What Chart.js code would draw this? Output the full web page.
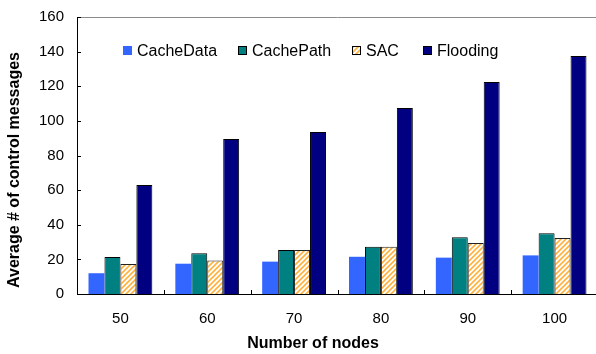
<!DOCTYPE html>
<html>
<head>
<meta charset="utf-8">
<script src="https://cdn.jsdelivr.net/npm/chart.js@4/dist/chart.umd.min.js"></script>
<style>
    html, body { margin: 0; padding: 0; background: #fff; overflow: hidden; }
    #wrap { width: 598px; height: 354px; position: relative; }
</style>
</head>
<body>
<div id="wrap"><canvas id="chart"></canvas></div>
<script>
const nodeCounts = ['50', '60', '70', '80', '90', '100'];
const cacheDataValues = [12, 17.5, 18.7, 21.5, 21, 22.3];
const cachePathValues = [21.4, 23.5, 25.4, 27.3, 32.8, 35.1];
const sacValues = [17.3, 19.4, 25.4, 27.3, 29.4, 32.3];
const floodingValues = [63, 89.5, 93.6, 107.5, 122.5, 137.5];
const yTicks = [0, 20, 40, 60, 80, 100, 120, 140, 160];

const FONT = '"Liberation Sans", Arial, sans-serif';

// diagonal orange hatch for SAC
function makeHatch() {
    const c = document.createElement('canvas');
    c.width = 5; c.height = 5;
    const g = c.getContext('2d');
    g.fillStyle = '#ffffff';
    g.fillRect(0, 0, 5, 5);
    g.strokeStyle = '#ffb23f';
    g.lineWidth = 1.6;
    g.beginPath();
    g.moveTo(-1, 6); g.lineTo(6, -1);
    g.moveTo(-1, 1); g.lineTo(1, -1);
    g.moveTo(4, 6); g.lineTo(6, 4);
    g.stroke();
    return g.createPattern(c, 'repeat');
}
const hatch = makeHatch();

// axis decorations, legend and titles
const decorPlugin = {
    id: 'decor',
    afterDraw(chart) {
        const ctx = chart.ctx;
        const area = chart.chartArea;
        const x = chart.scales.x;
        const y = chart.scales.y;
        ctx.save();

        // top frame line
        ctx.strokeStyle = '#8c8c8c';
        ctx.lineWidth = 1;
        ctx.beginPath();
        ctx.moveTo(area.left, Math.round(area.top) + 0.5);
        ctx.lineTo(area.right, Math.round(area.top) + 0.5);
        ctx.stroke();

        // inward ticks
        ctx.strokeStyle = '#000';
        ctx.beginPath();
        yTicks.forEach(v => {
            const py = Math.round(y.getPixelForValue(v)) + 0.5;
            ctx.moveTo(area.left, py);
            ctx.lineTo(area.left + 4, py);
        });
        for (let i = 1; i < nodeCounts.length; i++) {
            const px = Math.round((x.getPixelForValue(i - 1) + x.getPixelForValue(i)) / 2) + 0.5;
            ctx.moveTo(px, area.bottom);
            ctx.lineTo(px, area.bottom - 4);
        }
        ctx.stroke();

        // legend
        const legendX = [123, 238, 352, 423];
        ctx.font = '16px ' + FONT;
        ctx.textBaseline = 'middle';
        chart.data.datasets.forEach((ds, i) => {
            const bx = legendX[i];
            ctx.fillStyle = ds.backgroundColor;
            ctx.fillRect(bx, 46, 9, 9);
            if (ds.borderWidth) {
                ctx.strokeStyle = '#000';
                ctx.strokeRect(bx + 0.5, 46.5, 8, 8);
            }
            ctx.fillStyle = '#000';
            ctx.fillText(ds.label, bx + 14, 51.5);
        });

        // axis titles
        ctx.font = 'bold 16px ' + FONT;
        ctx.textAlign = 'center';
        ctx.fillText('Number of nodes', 313, 344);
        ctx.translate(15, 170);
        ctx.rotate(-Math.PI / 2);
        ctx.fillText('Average # of control messages', 0, 0);
        ctx.restore();
    }
};

new Chart(document.getElementById('chart'), {
    type: 'bar',
    data: {
        labels: nodeCounts,
        datasets: [
            { label: 'CacheData', data: cacheDataValues, backgroundColor: '#3366ff', borderWidth: 0 },
            { label: 'CachePath', data: cachePathValues, backgroundColor: '#008080', borderColor: '#000', borderWidth: 1 },
            { label: 'SAC', data: sacValues, backgroundColor: hatch, borderColor: '#222', borderWidth: 1 },
            { label: 'Flooding', data: floodingValues, backgroundColor: '#000080', borderColor: '#000', borderWidth: 1 }
        ]
    },
    options: {
        responsive: true,
        maintainAspectRatio: false,
        animation: false,
        categoryPercentage: 0.735,
        barPercentage: 1,
        layout: { padding: { top: 17, right: 0, left: 0, bottom: 0 } },
        plugins: {
            legend: { display: false },
            tooltip: { enabled: false }
        },
        scales: {
            x: {
                grid: { display: false, drawTicks: false },
                border: { color: '#000', width: 1 },
                ticks: { padding: 16, color: '#000', font: { family: FONT, size: 15 } },
                afterFit(scale) { scale.height = 60; scale.paddingLeft = 0; scale.paddingRight = 0; }
            },
            y: {
                min: 0,
                max: 160,
                grid: { display: false, drawTicks: false },
                border: { color: '#000', width: 1 },
                ticks: { stepSize: 20, padding: 13, color: '#000', font: { family: FONT, size: 15 } },
                afterFit(scale) { scale.width = 77; scale.paddingTop = 0; scale.paddingBottom = 0; }
            }
        }
    },
    plugins: [decorPlugin]
});
</script>
</body>
</html>
